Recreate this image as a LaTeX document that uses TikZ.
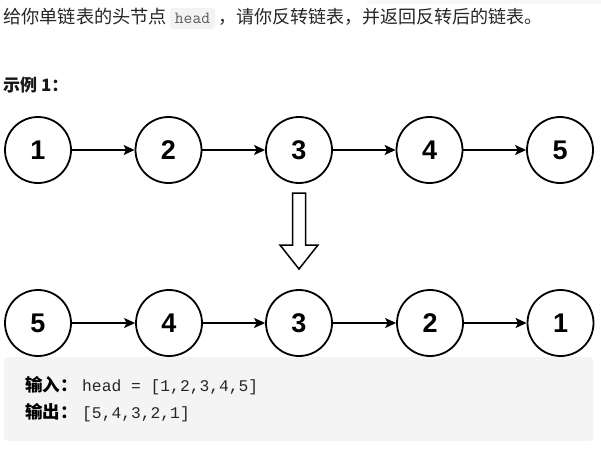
\documentclass[tikz,border=0pt]{standalone}
\usepackage{fontspec}
\setmainfont{Liberation Sans}
\setmonofont{Liberation Mono}
\newfontfamily\cjk{Noto Sans CJK SC}
\newfontfamily\codeserif{Latin Modern Mono}
\usetikzlibrary{arrows.meta}
\definecolor{txt}{RGB}{38,38,38}
\definecolor{boxgray}{RGB}{244,244,244}
\definecolor{codebg}{RGB}{243,243,243}
\definecolor{codefg}{RGB}{90,90,90}
\definecolor{strip}{RGB}{248,248,248}
\tikzset{
  lnode/.style={circle, draw=black, line width=1.8pt, minimum size=66pt, inner sep=0pt,
    font=\fontsize{27}{29}\selectfont\bfseries},
  conn/.style={line width=1.4pt, -{Stealth[length=11pt,width=10pt,inset=2.5pt]}, shorten <=0pt},
  cjktext/.style={inner sep=0pt, anchor=base west, text=txt},
}
\begin{document}
\begin{tikzpicture}[x=1pt,y=-1pt]
\useasboundingbox (0,0) rectangle (601,450);
\fill[white] (0,0) rectangle (601,450);
\fill[strip] (367,0) rectangle (601,4);
% header line
\node[cjktext, font=\cjk\fontsize{18.2}{21}\selectfont] (p1) at (3,23.5) {给你单链表的头节点};
\fill[codebg, rounded corners=3pt] (170,8) rectangle (215,29);
\node[inner sep=0pt, anchor=base, text=codefg, font=\codeserif\fontsize{17}{19}\selectfont] (hd) at (192.5,23) {head};
\node[cjktext, font=\cjk\fontsize{18}{21}\selectfont] (p2) at (218,23.5) {，请你反转链表，并返回反转后的链表。};
% example title
\node[cjktext, text=black!90, font=\cjk\fontsize{17}{19}\selectfont\bfseries] (ex) at (3,91.5) {示例 1：};
% top list
\node[lnode] (t1) at (38,150) {1};
\node[lnode] (t2) at (168.5,150) {2};
\node[lnode] (t3) at (299,150) {3};
\node[lnode] (t4) at (429.5,150) {4};
\node[lnode] (t5) at (560,150) {5};
\draw[conn] (t1) -- (t2);
\draw[conn] (t2) -- (t3);
\draw[conn] (t3) -- (t4);
\draw[conn] (t4) -- (t5);
% big hollow arrow
\draw[line width=1.5pt, fill=white, line join=miter]
  (292.5,193) -- (305.5,193) -- (305.5,245) -- (318,245) -- (299,269) -- (280,245) -- (292.5,245) -- cycle;
% bottom list
\node[lnode] (b1) at (38,323) {5};
\node[lnode] (b2) at (169,323) {4};
\node[lnode] (b3) at (299,323) {3};
\node[lnode] (b4) at (430,323) {2};
\node[lnode] (b5) at (560.5,323) {1};
\draw[conn] (b1) -- (b2);
\draw[conn] (b2) -- (b3);
\draw[conn] (b3) -- (b4);
\draw[conn] (b4) -- (b5);
% output box
\fill[boxgray, rounded corners=4pt] (4,357) rectangle (593,441);
\node[cjktext, text=black, font=\cjk\fontsize{17.5}{20}\selectfont\bfseries] (in) at (25,391) {输入：};
\node[cjktext, font=\ttfamily\fontsize{16.3}{18}\selectfont] (inv) at (82,391) {head = [1,2,3,4,5]};
\node[cjktext, text=black, font=\cjk\fontsize{17.5}{20}\selectfont\bfseries] (out) at (25,418) {输出：};
\node[cjktext, font=\ttfamily\fontsize{16.3}{18}\selectfont] (outv) at (82,418) {[5,4,3,2,1]};
\end{tikzpicture}
\end{document}
